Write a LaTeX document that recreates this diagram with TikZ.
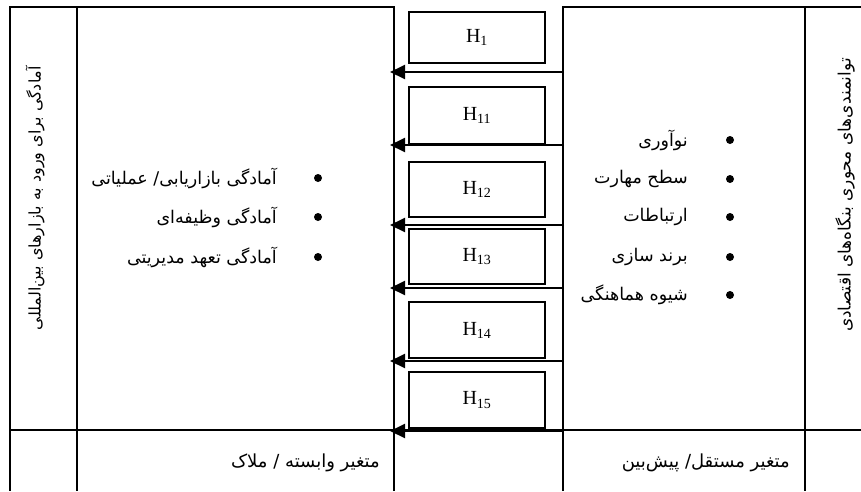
\documentclass[tikz,border=0pt]{standalone}
\usepackage{fontspec}
\setmainfont{Liberation Serif}
\newfontfamily\fa[Script=Arabic]{DejaVu Sans}
\TeXXeTstate=1
\usetikzlibrary{arrows.meta}
\tikzset{
  mainline/.style={line width=1.8pt},
  hbox/.style={draw, line width=1.5pt, minimum width=136pt, inner sep=0pt, font=\fontsize{20}{20}\selectfont},
  arr/.style={line width=2pt, -{Triangle[length=15pt,width=14pt]}},
  dot/.style={circle, fill, inner sep=0pt, minimum size=8pt},
  item/.style={anchor=east, inner sep=0pt, font=\fa\fontsize{17.5}{17.5}\selectfont},
  bottomlbl/.style={anchor=east, inner sep=0pt, font=\fa\fontsize{18}{18}\selectfont},
  vert/.style={rotate=90, inner sep=0pt},
}
\begin{document}
\begin{tikzpicture}[x=1pt,y=-1pt]
\useasboundingbox (0,0) rectangle (861,491);
% frame lines
\draw[mainline] (394,491) -- (394,7) -- (10,7) -- (10,491);
\draw[mainline] (77,7) -- (77,491);
\draw[mainline] (563,491) -- (563,7) -- (861,7);
\draw[mainline] (805,7) -- (805,491);
\draw[mainline] (10,430) -- (861,430);
% H boxes
\node[hbox, minimum height=51pt] (h1) at (477,37.5) {H\textsubscript{1}};
\node[hbox, minimum height=57pt] (h11) at (477,115.5) {H\textsubscript{11}};
\node[hbox, minimum height=55pt] (h12) at (477,189.5) {H\textsubscript{12}};
\node[hbox, minimum height=55pt] (h13) at (477,256.5) {H\textsubscript{13}};
\node[hbox, minimum height=56pt] (h14) at (477,330) {H\textsubscript{14}};
\node[hbox, minimum height=56pt] (h15) at (477,400) {H\textsubscript{15}};
% arrows
\foreach \n/\y in {1/72,2/145,3/225,4/288,5/361,6/431}{
  \coordinate (r\n) at (564,\y);
  \coordinate (l\n) at (390,\y);
  \draw[arr] (r\n) -- (l\n);
}
% vertical titles
\node[vert, font=\fa\fontsize{16}{16}\selectfont] (lt) at (35,198) {\beginR آمادگی برای ورود به بازارهای بین‌المللی\endR};
\node[vert, font=\fa\fontsize{17}{17}\selectfont] (rt) at (845,195) {\beginR توانمندی‌های محوری بنگاه‌های اقتصادی\endR};
% left list
\node[dot] (lb1) at (318,178) {};
\node[dot] (lb2) at (318,217) {};
\node[dot] (lb3) at (318,257) {};
\node[item] (li1) at (277,178) {\beginR آمادگی بازاریابی/ عملیاتی\endR};
\node[item] (li2) at (277,217) {\beginR آمادگی وظیفه‌ای\endR};
\node[item] (li3) at (277,257) {\beginR آمادگی تعهد مدیریتی\endR};
% right list
\node[dot] (rb1) at (730,140) {};
\node[dot] (rb2) at (730,179) {};
\node[dot] (rb3) at (730,217) {};
\node[dot] (rb4) at (730,257) {};
\node[dot] (rb5) at (730,295) {};
\node[item] (ri1) at (688,140) {\beginR نوآوری\endR};
\node[item] (ri2) at (688,179) {\beginR سطح مهارت\endR};
\node[item] (ri3) at (688,217) {\beginR ارتباطات\endR};
\node[item] (ri4) at (688,257) {\beginR برند سازی\endR};
\node[item] (ri5) at (688,295) {\beginR شیوه هماهنگی\endR};
% bottom labels
\node[bottomlbl] (dep) at (380,463) {\beginR متغیر وابسته / ملاک\endR};
\node[bottomlbl] (ind) at (790,463) {\beginR متغیر مستقل/ پیش‌بین\endR};
\end{tikzpicture}
\end{document}
